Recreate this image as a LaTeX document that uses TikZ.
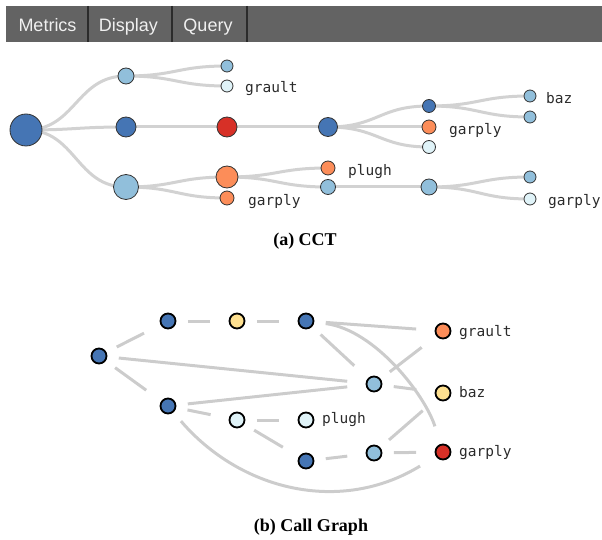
\documentclass[tikz,border=0pt]{standalone}
\usepackage{fontspec}
\setmainfont{Liberation Serif}
\newfontfamily\tabfont{Liberation Sans}
\newfontfamily\lblfont{DejaVu Sans Mono}
\usetikzlibrary{backgrounds}
\definecolor{dkb}{HTML}{4575B4}
\definecolor{ltb}{HTML}{91BFDB}
\definecolor{vlb}{HTML}{E0F3F8}
\definecolor{org}{HTML}{FC8D59}
\definecolor{rdd}{HTML}{D73027}
\definecolor{ylw}{HTML}{FEE090}
\definecolor{barg}{HTML}{636363}
\definecolor{sepg}{HTML}{2B2B2B}
\definecolor{edgeg}{HTML}{D2D2D2}
\definecolor{cgedgeg}{HTML}{CCCCCC}
\definecolor{txtg}{HTML}{2B2B2B}
\begin{document}
\begin{tikzpicture}[x=1pt,y=-1pt,
  cn/.style 2 args={circle, draw=black!80, line width=0.8pt, inner sep=0pt, minimum size=#1, fill=#2},
  gn/.style={circle, draw=black, line width=1.8pt, inner sep=0pt, minimum size=15pt, fill=#1},
  cedge/.style={draw=edgeg, line width=3pt},
  gedge/.style={draw=cgedgeg, line width=3pt, shorten <=11.5pt, shorten >=18.5pt},
  lbl/.style={anchor=base west, text=txtg, font=\lblfont\fontsize{14.5}{17}\selectfont, inner sep=0pt},
  tabtxt/.style={anchor=base, text=white!94!black, font=\tabfont\fontsize{18}{20}\selectfont, inner sep=0pt},
  capt/.style={anchor=base, font=\bfseries\fontsize{18}{20}\selectfont, inner sep=0pt}]
\useasboundingbox (0,0) rectangle (602,540);
% menu bar
\fill[barg] (6,6) rectangle (602,42);
\draw[sepg, line width=2pt] (88,6) -- (88,42) (172,6) -- (172,42) (247,6) -- (247,42);
\node[tabtxt] (tm) at (47.5,32) {Metrics};
\node[tabtxt] (td) at (128.5,32) {Display};
\node[tabtxt] (tq) at (208,32) {Query};
% CCT nodes
\node[cn={32pt}{dkb}] (root) at (26,130) {};
\node[cn={16pt}{ltb}] (t1) at (126,76) {};
\node[cn={20pt}{dkb}] (m1) at (126,127) {};
\node[cn={25pt}{ltb}] (b1) at (126,187) {};
\node[cn={12pt}{ltb}] (a2) at (227,66) {};
\node[cn={12pt}{vlb}] (b2) at (227,86) {};
\node[cn={20pt}{rdd}] (r2) at (227,127) {};
\node[cn={22pt}{org}] (o2) at (227,177) {};
\node[cn={14pt}{org}] (p2) at (227,198) {};
\node[cn={19pt}{dkb}] (d3) at (328,127) {};
\node[cn={14pt}{org}] (q3) at (328,168) {};
\node[cn={15pt}{ltb}] (s3) at (328,187) {};
\node[cn={13pt}{dkb}] (a4) at (429,106) {};
\node[cn={14pt}{org}] (b4) at (429,127) {};
\node[cn={13pt}{vlb}] (c4) at (429,147) {};
\node[cn={16pt}{ltb}] (e4) at (429,187) {};
\node[cn={12pt}{ltb}] (a5) at (530,96) {};
\node[cn={12pt}{ltb}] (b5) at (530,117) {};
\node[cn={12pt}{ltb}] (c5) at (530,177) {};
\node[cn={12pt}{vlb}] (d5) at (530,199) {};
\begin{pgfonlayer}{background}
\foreach \p/\c in {root/t1,root/m1,root/b1,t1/a2,t1/b2,m1/r2,b1/o2,b1/p2,r2/d3,o2/q3,o2/s3,d3/a4,d3/b4,d3/c4,s3/e4,a4/a5,a4/b5,e4/c5,e4/d5}
  \draw[cedge] (\p.center) .. controls +(50,0) and +(-50,0) .. (\c.center);
\end{pgfonlayer}
% CCT labels
\node[lbl] (lg1) at (245,93) {grault};
\node[lbl] (lg2) at (248,205) {garply};
\node[lbl] (lg3) at (348,176) {plugh};
\node[lbl] (lg4) at (449,135) {garply};
\node[lbl] (lg5) at (546,104) {baz};
\node[lbl] (lg6) at (548,206) {garply};
\node[capt] (capa) at (305,245) {(a) CCT};
% Call graph nodes
\node[gn=dkb] (A) at (99,356) {};
\node[gn=dkb] (B) at (168,321) {};
\node[gn=ylw] (C) at (237,321) {};
\node[gn=dkb] (D) at (306,321) {};
\node[gn=dkb] (E) at (168,406) {};
\node[gn=vlb] (F) at (237,420) {};
\node[gn=vlb] (G) at (306,420) {};
\node[gn=dkb] (H) at (306,461) {};
\node[gn=ltb] (I) at (374,384) {};
\node[gn=ltb] (J) at (374,453) {};
\node[gn=org] (K) at (443,331) {};
\node[gn=ylw] (L) at (443,393) {};
\node[gn=rdd] (M) at (443,452) {};
\begin{pgfonlayer}{background}
\foreach \p/\c in {A/B,A/E,A/I,B/C,C/D,D/K,D/I,E/I,E/F,F/G,F/H,H/J,I/K,I/L,J/L,J/M}
  \draw[gedge] (\p) -- (\c);
\draw[gedge] (D) .. controls (375,330) and (425,395) .. (M);
\draw[gedge] (E) .. controls (240,490) and (340,515) .. (M);
\end{pgfonlayer}
\node[lbl] (cg1) at (459,336) {grault};
\node[lbl] (cg2) at (459,397) {baz};
\node[lbl] (cg3) at (459,456.5) {garply};
\node[lbl] (cg4) at (322,423.5) {plugh};
\node[capt] (capb) at (311,531) {(b) Call Graph};
\end{tikzpicture}
\end{document}
